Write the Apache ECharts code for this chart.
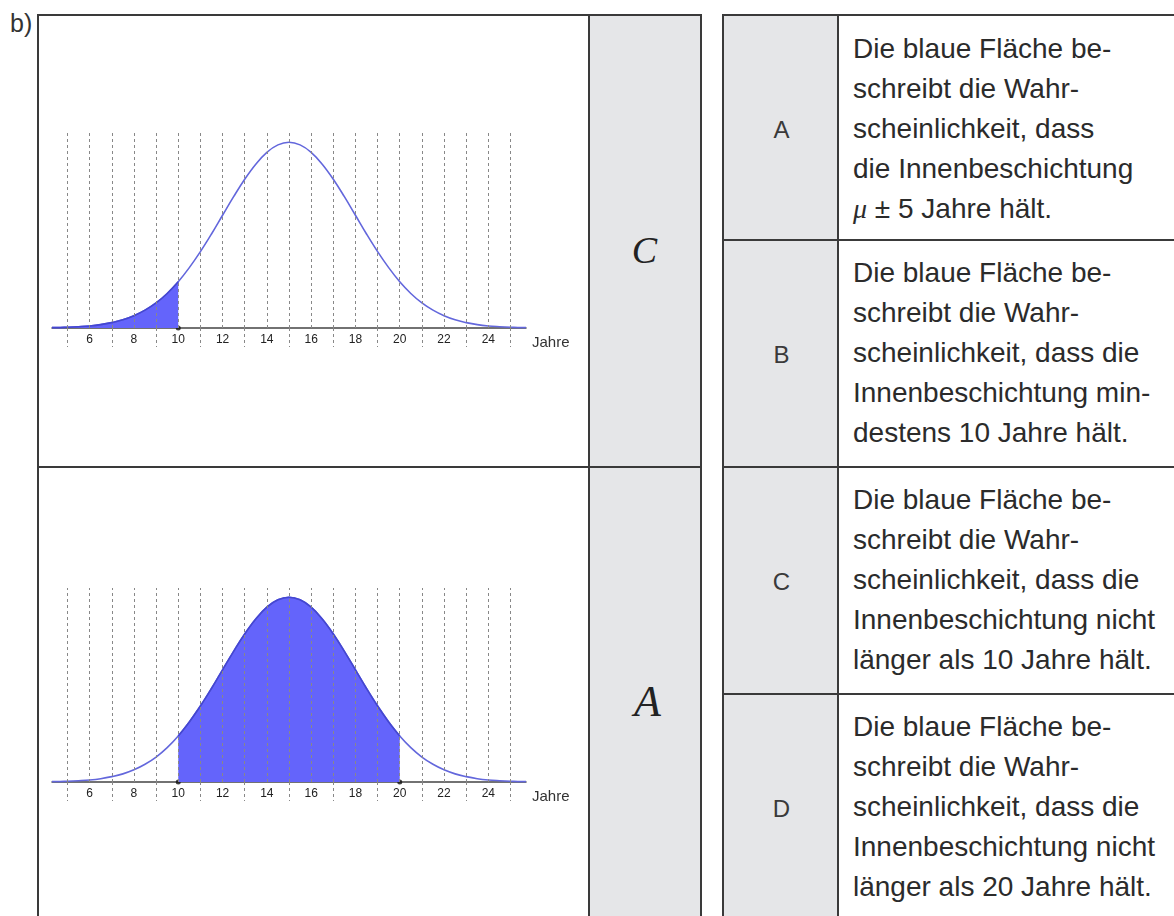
<!DOCTYPE html>
<html>
<head>
<meta charset="utf-8">
<script src="https://cdn.jsdelivr.net/npm/echarts@6/dist/echarts.min.js"></script>
<style>
    body {
        margin: 0;
        width: 1174px;
        height: 916px;
        position: relative;
        overflow: hidden;
        background: #fff;
        font-family: "Liberation Sans", Arial, sans-serif;
        color: #2b2b2b;
    }
    .abs { position: absolute; box-sizing: border-box; }
    .box { border: 2px solid #3a3a3a; }
    .gray { background: #e5e6e8; }
    .hline { height: 2px; background: #3a3a3a; }
    .txt { font-size: 28px; line-height: 40px; white-space: nowrap; color: #2b2b2b; }
    .letter { width: 115px; text-align: center; font-size: 24px; line-height: 28px; color: #3a3a3a; }
    .hand { width: 113px; text-align: center; font-family: "Liberation Serif", serif; font-style: italic; color: #222; }
</style>
</head>
<body>
<div class="abs" style="left:10px; top:9px; font-size:25px; color:#333;">b)</div>

<!-- left table -->
<div class="abs box" style="left:37px; top:14px; width:665px; height:1000px;"></div>
<div class="abs gray" style="left:588px; top:16px; width:112px; height:1000px; border-left:2px solid #3a3a3a;"></div>
<div class="abs hline" style="left:37px; top:466px; width:665px;"></div>
<div class="abs hand" style="left:588px; top:228px; font-size:38px;">C</div>
<div class="abs hand" style="left:591px; top:676px; font-size:44px;">A</div>

<!-- right table -->
<div class="abs box" style="left:722px; top:14px; width:600px; height:1000px;"></div>
<div class="abs gray" style="left:724px; top:16px; width:115px; height:1000px; border-right:2px solid #3a3a3a;"></div>
<div class="abs hline" style="left:722px; top:239px; width:460px;"></div>
<div class="abs hline" style="left:722px; top:466px; width:460px;"></div>
<div class="abs hline" style="left:722px; top:693px; width:460px;"></div>

<div class="abs letter" style="left:724px; top:116px;">A</div>
<div class="abs letter" style="left:724px; top:341px;">B</div>
<div class="abs letter" style="left:724px; top:568px;">C</div>
<div class="abs letter" style="left:724px; top:795px;">D</div>

<div class="abs txt" style="left:853px; top:29px;">Die blaue Fläche be-<br>schreibt die Wahr-<br>scheinlichkeit, dass<br>die Innenbeschichtung<br><i style="font-family:'Liberation Serif',serif;">μ</i> ± 5 Jahre hält.</div>
<div class="abs txt" style="left:853px; top:253px;">Die blaue Fläche be-<br>schreibt die Wahr-<br>scheinlichkeit, dass die<br>Innenbeschichtung min-<br>destens 10 Jahre hält.</div>
<div class="abs txt" style="left:853px; top:480px;">Die blaue Fläche be-<br>schreibt die Wahr-<br>scheinlichkeit, dass die<br>Innenbeschichtung nicht<br>länger als 10 Jahre hält.</div>
<div class="abs txt" style="left:853px; top:707px;">Die blaue Fläche be-<br>schreibt die Wahr-<br>scheinlichkeit, dass die<br>Innenbeschichtung nicht<br>länger als 20 Jahre hält.</div>

<div id="chartTop" class="abs" style="left:39px; top:16px; width:548px; height:450px;"></div>
<div id="chartBottom" class="abs" style="left:39px; top:469px; width:548px; height:447px;"></div>

<script>
// Lebensdauer der Innenbeschichtung (Jahre), Dichte relativ zum Maximum
const years = [4.3, 4.5, 5, 5.5, 6, 6.5, 7, 7.5, 8, 8.5, 9, 9.5, 10, 10.5, 11, 11.5, 12, 12.5,
    13, 13.5, 14, 14.5, 15, 15.5, 16, 16.5, 17, 17.5, 18, 18.5, 19, 19.5, 20, 20.5, 21, 21.5,
    22, 22.5, 23, 23.5, 24, 24.5, 25, 25.5, 25.7];
const density = [0.002, 0.002, 0.004, 0.007, 0.011, 0.018, 0.029, 0.044, 0.066, 0.096, 0.135, 0.186,
    0.249, 0.325, 0.411, 0.506, 0.607, 0.707, 0.801, 0.882, 0.946, 0.986, 1, 0.986, 0.946, 0.882,
    0.801, 0.707, 0.607, 0.506, 0.411, 0.325, 0.249, 0.186, 0.135, 0.096, 0.066, 0.044, 0.029,
    0.018, 0.011, 0.007, 0.004, 0.002, 0.002];

const gridYears = [5, 6, 7, 8, 9, 10, 11, 12, 13, 14, 15, 16, 17, 18, 19, 20, 21, 22, 23, 24, 25];
const labelYears = [6, 8, 10, 12, 14, 16, 18, 20, 22, 24];
const oddYears = [5, 7, 9, 11, 13, 15, 17, 19, 21, 23, 25];

const topShade = [4.3, 10];
const topMarkers = [10];
const bottomShade = [10, 20];
const bottomMarkers = [10, 20];

window.onload = () => {
    new DistributionChartVm().main();
};

class DistributionChartVm {
    topChart;
    bottomChart;

    main() {
        this.topChart = echarts.init(document.getElementById('chartTop'));
        this.topChart.setOption(this.buildOption(topShade, topMarkers, 117, 138));

        this.bottomChart = echarts.init(document.getElementById('chartBottom'));
        this.bottomChart.setOption(this.buildOption(bottomShade, bottomMarkers, 119, 134));
    }

    buildOption(shade, markers, gridTop, gridBottom) {
        let curve = years.map((x, i) => [x, density[i]]);
        let shaded = curve.filter(p => p[0] >= shade[0] && p[0] <= shade[1]);

        return {
            animation: false,
            grid: { left: 13, right: 61, top: gridTop, bottom: gridBottom },
            xAxis: {
                type: 'value',
                min: 4.3,
                max: 25.7,
                name: 'Jahre',
                nameLocation: 'end',
                nameGap: 6,
                nameTextStyle: {
                    fontSize: 15, color: '#333', verticalAlign: 'top',
                    padding: [7, 0, 0, 0], fontFamily: 'Liberation Sans'
                },
                axisLine: { lineStyle: { color: '#444', width: 1.5 } },
                axisTick: {
                    show: true,
                    customValues: oddYears,
                    length: 19,
                    lineStyle: { type: [3, 3], color: '#888' }
                },
                axisLabel: {
                    customValues: labelYears,
                    margin: 6,
                    fontSize: 12,
                    color: '#222',
                    fontFamily: 'Liberation Sans'
                },
                splitLine: { show: false }
            },
            yAxis: { type: 'value', min: 0, max: 1.05, show: false },
            series: [
                {
                    type: 'line',
                    data: curve,
                    smooth: 0.4,
                    showSymbol: false,
                    lineStyle: { color: '#6367dc', width: 1.6 }
                },
                {
                    type: 'line',
                    data: shaded,
                    smooth: 0.4,
                    showSymbol: false,
                    lineStyle: { color: '#4446d2', width: 1.6 },
                    areaStyle: { color: '#6464fb', opacity: 1 },
                    markLine: {
                        silent: true,
                        symbol: 'none',
                        label: { show: false },
                        lineStyle: { type: [3, 3], color: '#888', width: 1 },
                        data: gridYears.map(y => ({ xAxis: y }))
                    }
                },
                {
                    type: 'scatter',
                    data: markers.map(x => [x, 0]),
                    symbolSize: 5,
                    itemStyle: { color: '#111' }
                }
            ]
        };
    }
}
</script>
</body>
</html>
